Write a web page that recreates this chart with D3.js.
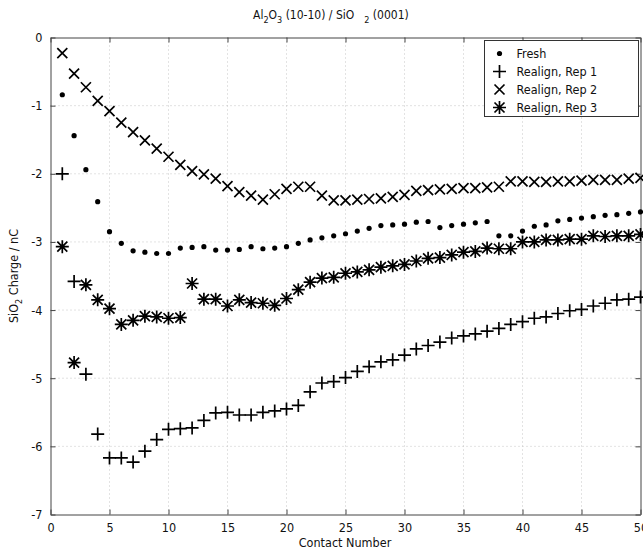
<!DOCTYPE html>
<html><head><meta charset="utf-8">
<script src="https://cdn.jsdelivr.net/npm/d3@7"></script>
<style>
body{margin:0;background:#fff}
svg{display:block}
text{font-family:"Liberation Sans Narrow","Arial Narrow","DejaVu Sans Condensed",sans-serif;fill:#111}
</style>
</head><body><svg id="c" width="643" height="550"></svg>
<script>
const contact = [1,2,3,4,5,6,7,8,9,10,11,12,13,14,15,16,17,18,19,20,21,22,23,24,25,26,27,28,29,30,31,32,33,34,35,36,37,38,39,40,41,42,43,44,45,46,47,48,49,50];
const fresh = [-0.84,-1.44,-1.94,-2.41,-2.85,-3.02,-3.13,-3.15,-3.17,-3.17,-3.09,-3.08,-3.07,-3.12,-3.12,-3.11,-3.07,-3.10,-3.09,-3.07,-3.02,-2.97,-2.94,-2.91,-2.88,-2.84,-2.80,-2.76,-2.75,-2.74,-2.71,-2.70,-2.79,-2.76,-2.74,-2.72,-2.70,-2.91,-2.91,-2.84,-2.77,-2.75,-2.69,-2.67,-2.65,-2.63,-2.61,-2.60,-2.58,-2.56];
const rep1 = [-2.00,-3.58,-4.94,-5.82,-6.17,-6.17,-6.23,-6.07,-5.90,-5.75,-5.74,-5.73,-5.62,-5.51,-5.50,-5.54,-5.54,-5.50,-5.48,-5.45,-5.40,-5.20,-5.07,-5.05,-4.99,-4.90,-4.83,-4.76,-4.73,-4.66,-4.57,-4.52,-4.47,-4.41,-4.38,-4.35,-4.31,-4.27,-4.21,-4.17,-4.12,-4.10,-4.05,-4.01,-3.99,-3.94,-3.90,-3.85,-3.84,-3.81];
const rep2 = [-0.23,-0.53,-0.73,-0.93,-1.08,-1.25,-1.39,-1.51,-1.63,-1.75,-1.87,-1.96,-2.01,-2.07,-2.18,-2.27,-2.32,-2.38,-2.30,-2.22,-2.19,-2.19,-2.32,-2.39,-2.39,-2.38,-2.37,-2.36,-2.34,-2.31,-2.25,-2.24,-2.23,-2.22,-2.21,-2.21,-2.20,-2.19,-2.11,-2.11,-2.12,-2.12,-2.11,-2.11,-2.10,-2.09,-2.09,-2.09,-2.07,-2.06];
const rep3 = [-3.07,-4.77,-3.63,-3.85,-3.98,-4.21,-4.15,-4.09,-4.10,-4.12,-4.11,-3.61,-3.84,-3.84,-3.94,-3.85,-3.89,-3.90,-3.93,-3.83,-3.70,-3.59,-3.53,-3.52,-3.46,-3.44,-3.41,-3.37,-3.35,-3.33,-3.28,-3.24,-3.23,-3.19,-3.15,-3.14,-3.09,-3.10,-3.10,-3.00,-3.00,-2.97,-2.97,-2.96,-2.96,-2.91,-2.92,-2.91,-2.91,-2.89];
const seriesNames = ["Fresh","Realign, Rep 1","Realign, Rep 2","Realign, Rep 3"];
const seriesMarkers = ["dot","plus","x","star"];
const xTicks = [0,5,10,15,20,25,30,35,40,45,50];
const yTicks = [0,-1,-2,-3,-4,-5,-6,-7];

const svg = d3.select("#c");
const L = 50.5, R = 640.5, T = 37.5, B = 514.5;
const x = d3.scaleLinear().domain([0,50]).range([L,R]);
const y = d3.scaleLinear().domain([-7,0]).range([B,T]);

// grid
const grid = svg.append("g").attr("stroke","#b8b8b8").attr("stroke-width",0.8).attr("stroke-dasharray","1,3");
grid.selectAll("line.vx").data(xTicks.slice(1,-1)).enter().append("line")
  .attr("x1",d=>x(d)).attr("x2",d=>x(d)).attr("y1",T).attr("y2",B);
grid.selectAll("line.hy").data(yTicks.slice(1,-1)).enter().append("line")
  .attr("y1",d=>y(d)).attr("y2",d=>y(d)).attr("x1",L).attr("x2",R);

// axes
const fmt = d => String(d);
function styleAxis(g){ g.select(".domain").attr("stroke","#444").attr("stroke-width",1);
  g.selectAll(".tick line").attr("stroke","#444");
  g.selectAll(".tick text").attr("font-size",12.5).style("font-family",'"Liberation Sans Narrow","Arial Narrow","DejaVu Sans Condensed",sans-serif').attr("fill","#111"); }
const xb = svg.append("g").attr("transform",`translate(0,${B})`)
  .call(d3.axisBottom(x).tickValues(xTicks).tickSizeInner(-5).tickSizeOuter(0).tickPadding(9).tickFormat(fmt));
styleAxis(xb);
const xt = svg.append("g").attr("transform",`translate(0,${T})`)
  .call(d3.axisTop(x).tickValues(xTicks).tickSizeInner(-5).tickSizeOuter(0).tickFormat(""));
styleAxis(xt);
const yl = svg.append("g").attr("transform",`translate(${L},0)`)
  .call(d3.axisLeft(y).tickValues(yTicks).tickSizeInner(-5).tickSizeOuter(0).tickPadding(8).tickFormat(fmt));
styleAxis(yl);
const yr = svg.append("g").attr("transform",`translate(${R},0)`)
  .call(d3.axisRight(y).tickValues(yTicks).tickSizeInner(-5).tickSizeOuter(0).tickFormat(""));
styleAxis(yr);

// markers
function markerPath(type){
  const a = 6.5, b = 5;
  if(type==="plus") return `M${-a},0H${a}M0,${-a}V${a}`;
  if(type==="x") return `M${-b},${-b}L${b},${b}M${-b},${b}L${b},${-b}`;
  if(type==="star") return `M${-a},0H${a}M0,${-a}V${a}M${-b},${-b}L${b},${b}M${-b},${b}L${b},${-b}`;
  return "";
}
function drawMarker(g,type){
  if(type==="dot") g.append("circle").attr("r",2.6).attr("fill","#000");
  else g.append("path").attr("d",markerPath(type)).attr("fill","none").attr("stroke","#000").attr("stroke-width",1.7);
}
const allSeries = [fresh,rep1,rep2,rep3];
allSeries.forEach((vals,i)=>{
  const g = svg.append("g");
  const pts = g.selectAll("g").data(contact.map((c,j)=>({c,v:vals[j]}))).enter().append("g")
    .attr("transform",d=>`translate(${x(d.c)},${y(d.v)})`);
  pts.each(function(){ drawMarker(d3.select(this),seriesMarkers[i]); });
});

// legend
const lg = svg.append("g").attr("transform","translate(484.5,40.5)");
lg.append("rect").attr("width",154).attr("height",76).attr("fill","#fff").attr("stroke","#333").attr("stroke-width",1);
seriesNames.forEach((n,i)=>{
  const row = lg.append("g").attr("transform",`translate(0,${13+i*18})`);
  drawMarker(row.append("g").attr("transform","translate(15,0)"),seriesMarkers[i]);
  row.append("text").attr("x",32).attr("y",4.5).attr("font-size",12.5).text(n);
});

// title
const title = svg.append("text").attr("x",253).attr("y",19).attr("font-size",12);
title.append("tspan").text("Al");
title.append("tspan").attr("dy",4).attr("font-size",9).text("2");
title.append("tspan").attr("dy",-4).text("O");
title.append("tspan").attr("dy",4).attr("font-size",9).text("3");
title.append("tspan").attr("dy",-4).text(" (10-10) / SiO");
title.append("tspan").attr("dx",10).attr("dy",4).attr("font-size",9).text("2");
title.append("tspan").attr("dy",-4).text(" (0001)");

// axis labels
svg.append("text").attr("x",345).attr("y",547).attr("text-anchor","middle").attr("font-size",12.5).text("Contact Number");
const yt = svg.append("text").attr("transform","translate(18,276) rotate(-90)").attr("text-anchor","middle").attr("font-size",12.5);
yt.append("tspan").text("SiO");
yt.append("tspan").attr("dy",4).attr("font-size",9).text("2");
yt.append("tspan").attr("dy",-4).text(" Charge / nC");
</script>
</body></html>
